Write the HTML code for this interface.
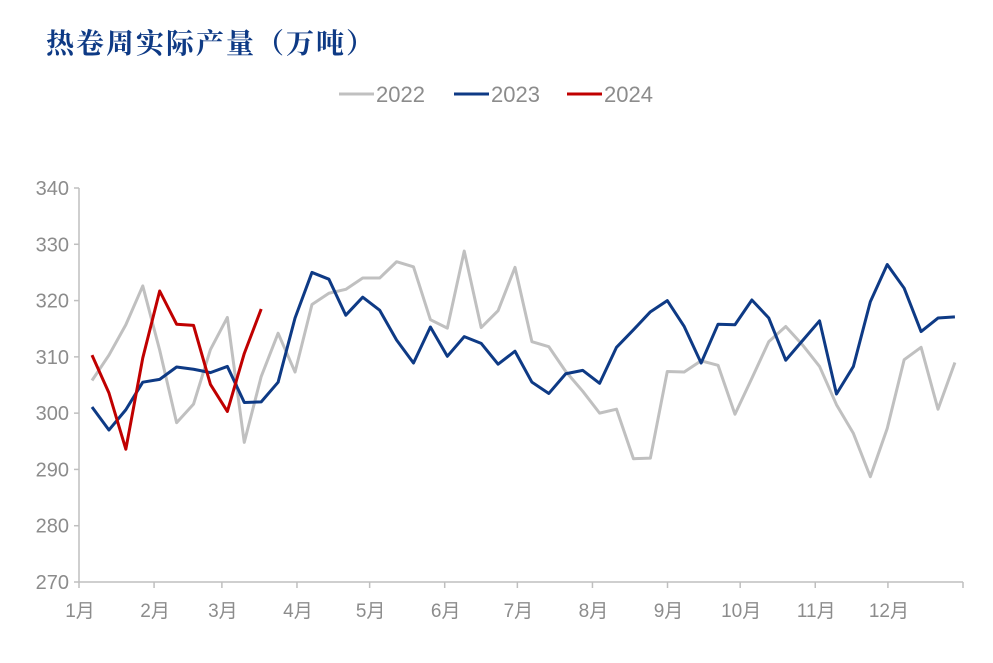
<!DOCTYPE html>
<html><head><meta charset="utf-8"><style>
body{margin:0;background:#fff;width:993px;height:658px;overflow:hidden}
svg text{font-family:"Liberation Sans","Noto Sans CJK SC",sans-serif}
</style></head><body>
<svg width="993" height="658">
<text x="46" y="53" font-size="28" fill="#0e3a85" font-weight="bold" style="font-family:'Noto Serif CJK SC',serif;letter-spacing:2px">热卷周实际产量（万吨）</text>
<g>
<g><line x1="339" y1="94" x2="374" y2="94" stroke="#c0c0c0" stroke-width="3"/><text x="376" y="102" font-size="22" fill="#8c8c8c">2022</text></g>
<g><line x1="454" y1="94" x2="489" y2="94" stroke="#0e3a85" stroke-width="3"/><text x="491" y="102" font-size="22" fill="#8c8c8c">2023</text></g>
<g><line x1="567" y1="94" x2="602" y2="94" stroke="#c00000" stroke-width="3"/><text x="604" y="102" font-size="22" fill="#8c8c8c">2024</text></g>
</g>
<g id="axes"></g>
<g id="series"></g>
</svg>
<script>
const yTicks=[270,280,290,300,310,320,330,340];
const months=["1月","2月","3月","4月","5月","6月","7月","8月","9月","10月","11月","12月"];
const monthStartDays=[0,31,59,90,120,151,181,212,243,273,304,334];
const s2022=[305.8,310.3,315.7,322.6,311.2,298.3,301.6,311.3,317.0,294.8,306.5,314.2,307.3,319.3,321.3,322.0,324.0,324.0,326.9,326.0,316.6,315.1,328.8,315.2,318.2,325.9,312.7,311.8,307.4,303.9,300.0,300.7,291.9,292.0,307.4,307.3,309.3,308.5,299.8,306.2,312.7,315.4,312.1,308.3,301.5,296.4,288.7,297.3,309.5,311.7,300.7,309.0];
const s2023=[301.1,297.0,300.6,305.5,306.0,308.2,307.8,307.2,308.3,301.9,302.0,305.5,316.9,325.0,323.8,317.4,320.6,318.3,313.0,308.9,315.3,310.1,313.6,312.4,308.7,311.0,305.5,303.5,307.0,307.6,305.3,311.7,314.8,318.0,320.0,315.4,308.9,315.8,315.7,320.1,316.9,309.4,312.9,316.4,303.4,308.3,319.8,326.4,322.2,314.5,316.9,317.1];
const s2024=[310.3,303.6,293.6,309.8,321.7,315.8,315.6,305.1,300.3,310.6,318.5];
const X0=79,X1=963,Y0=582,Y1=188;
const yS=v=>Y0-(v-270)/70*(Y0-Y1);
const dS=d=>X0+d/365*(X1-X0);
const wS=i=>92+i*16.92;
const NS="http://www.w3.org/2000/svg";
const ax=document.getElementById('axes');
function mk(tag,attrs,parent){const e=document.createElementNS(NS,tag);for(const k in attrs)e.setAttribute(k,attrs[k]);parent.appendChild(e);return e;}
let yl=mk('line',{x1:X0,y1:Y1,x2:X0,y2:Y0,stroke:'#bfbfbf','stroke-width':1.5},ax);


yTicks.forEach(v=>{
 const t=mk('line',{x1:X0-5,y1:yS(v),x2:X0,y2:yS(v),stroke:'#bfbfbf','stroke-width':1.5},ax);
 
 
 const tx=mk('text',{x:X0-10,y:yS(v)+7,'text-anchor':'end','font-size':20,fill:'#8c8c8c'},ax);
 tx.textContent=v;
 
 
});
let xl=mk('line',{x1:X0,y1:Y0,x2:X1,y2:Y0,stroke:'#bfbfbf','stroke-width':1.5},ax);


monthStartDays.concat([365]).forEach(d=>{
 const t=mk('line',{x1:dS(d),y1:Y0,x2:dS(d),y2:Y0+6,stroke:'#bfbfbf','stroke-width':1.5},ax);
 
 
});
months.forEach((m,i)=>{
 const tx=mk('text',{x:dS(monthStartDays[i])+1,y:Y0+35,'text-anchor':'middle','font-size':19,fill:'#8c8c8c'},ax);
 tx.textContent=m;
 
 
});
const sg=document.getElementById('series');
[[s2022,'#c0c0c0','line-2022'],[s2023,'#0e3a85','line-2023'],[s2024,'#c00000','line-2024']].forEach(([arr,c,n])=>{
 const p=mk('polyline',{points:arr.map((v,i)=>wS(i)+','+yS(v)).join(' '),fill:'none',stroke:c,'stroke-width':3,'stroke-linejoin':'round'},sg);
 
 
});
</script>
</body></html>
